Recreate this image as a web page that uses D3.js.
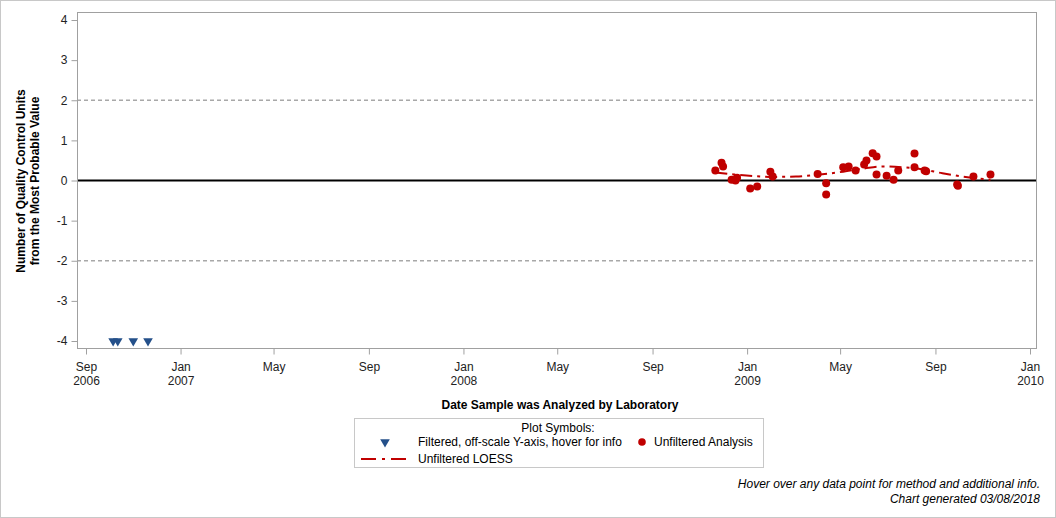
<!DOCTYPE html>
<html><head><meta charset="utf-8">
<script src="https://cdn.jsdelivr.net/npm/d3@7"></script>
<style>
body{margin:0;background:#fff;}
svg{display:block;font-family:"Liberation Sans",Arial,sans-serif;}
</style></head><body>
<svg id="c" width="1056" height="518"></svg>
<script>
// Unfiltered analyses: dates and values (QC units from MPV)
const unfilteredDates = ["2008-11-21","2008-11-29","2008-12-01","2008-12-12","2008-12-17","2008-12-19","2009-01-05","2009-01-14","2009-01-31","2009-02-03","2009-04-02","2009-04-13","2009-04-13","2009-05-05","2009-05-12","2009-05-21","2009-06-01","2009-06-04","2009-06-12","2009-06-17","2009-06-17","2009-06-30","2009-07-09","2009-07-15","2009-08-05","2009-08-05","2009-08-18","2009-08-20","2009-09-29","2009-09-30","2009-10-20","2009-11-11"];
const unfilteredValues = [0.25,0.44,0.35,0.02,0.0,0.07,-0.2,-0.15,0.22,0.1,0.16,-0.07,-0.35,0.33,0.35,0.25,0.4,0.5,0.68,0.6,0.15,0.12,0.02,0.25,0.67,0.33,0.25,0.23,-0.1,-0.13,0.1,0.15];
// Filtered (off-scale) points, drawn at the bottom of the axis
const filteredDates = ["2006-10-06","2006-10-12","2006-11-01","2006-11-20"];
const filteredValues = [-4,-4,-4,-4];
// LOESS curve
const loessDates = ["2008-11-21","2008-12-15","2009-01-10","2009-02-05","2009-03-05","2009-04-05","2009-05-05","2009-06-01","2009-06-25","2009-07-20","2009-08-15","2009-09-10","2009-10-05","2009-11-11"];
const loessValues = [0.2,0.15,0.11,0.09,0.1,0.15,0.22,0.3,0.35,0.33,0.28,0.18,0.1,0.02];
const yTicks = [-4,-3,-2,-1,0,1,2,3,4];
const xTickDates = ["2006-09-01","2007-01-01","2007-05-01","2007-09-01","2008-01-01","2008-05-01","2008-09-01","2009-01-01","2009-05-01","2009-09-01","2010-01-01"];
const refLines = [2,-2];

const parse = d3.utcParse("%Y-%m-%d");
const svg = d3.select("#c");
const W = 1056, H = 518;
const plot = {l:77, t:12, r:1037, b:349};

svg.append("rect").attr("x",0.5).attr("y",0.5).attr("width",W-1).attr("height",H-1)
  .attr("fill","#fff").attr("stroke","#c8c8c8");

const x = d3.scaleUtc().domain([parse("2006-09-01"), parse("2010-01-01")]).range([86,1030]);
const y = d3.scaleLinear().domain([-4,4]).range([341,20]);

// reference lines
svg.selectAll(".ref").data(refLines).join("line")
  .attr("x1",plot.l).attr("x2",plot.r).attr("y1",d=>y(d)).attr("y2",d=>y(d))
  .attr("stroke","#a8a8a8").attr("stroke-width",1.5).attr("stroke-dasharray","4,3");
svg.append("line").attr("x1",plot.l).attr("x2",plot.r).attr("y1",y(0)).attr("y2",y(0))
  .attr("stroke","#000").attr("stroke-width",2);

// frame
svg.append("rect").attr("x",plot.l+0.5).attr("y",plot.t+0.5)
  .attr("width",plot.r-plot.l-1).attr("height",plot.b-plot.t-1)
  .attr("fill","none").attr("stroke","#a0a0a0");

// Y axis
const yAxis = d3.axisLeft(y).tickValues(yTicks).tickSize(6).tickPadding(4).tickFormat(d=>String(d));
const gy = svg.append("g").attr("transform",`translate(${plot.l+0.5},0)`).call(yAxis);
gy.select(".domain").remove();
gy.selectAll(".tick line").attr("stroke","#a0a0a0");
gy.selectAll(".tick text").attr("font-size",12).attr("fill","#222").attr("font-family","Liberation Sans, Arial");

// X axis
const xAxis = d3.axisBottom(x).tickValues(xTickDates.map(parse)).tickSize(6).tickPadding(8).tickFormat(()=>"");
const gx = svg.append("g").attr("transform",`translate(0,${plot.b-0.5})`).call(xAxis);
gx.select(".domain").remove();
gx.selectAll(".tick line").attr("stroke","#a0a0a0");
gx.selectAll(".tick text").each(function(d){
  const t = d3.select(this);
  t.attr("font-size",12).attr("fill","#222").attr("font-family","Liberation Sans, Arial");
  const mon = d3.utcFormat("%b")(d);
  t.append("tspan").attr("x",0).attr("dy","0.71em").text(mon);
  if (mon==="Jan" || +d===+parse("2006-09-01")) t.append("tspan").attr("x",0).attr("dy","1.2em").text(d3.utcFormat("%Y")(d));
});

// axis titles
svg.append("text").attr("transform","translate(25,181) rotate(-90)").attr("text-anchor","middle")
  .attr("font-size",12).attr("font-weight","bold").attr("fill","#000").text("Number of Quality Control Units");
svg.append("text").attr("transform","translate(39,181) rotate(-90)").attr("text-anchor","middle")
  .attr("font-size",12).attr("font-weight","bold").attr("fill","#000").text("from the Most Probable Value");
svg.append("text").attr("x",560).attr("y",409).attr("text-anchor","middle")
  .attr("font-size",12).attr("font-weight","bold").attr("fill","#000").text("Date Sample was Analyzed by Laboratory");

const red = "#c00000", blue = "#24508a";

// LOESS line
const loessData = loessDates.map((d,i)=>({d:parse(d),v:loessValues[i]}));
svg.append("path").datum(loessData)
  .attr("d",d3.line().x(p=>x(p.d)).y(p=>y(p.v)).curve(d3.curveMonotoneX))
  .attr("fill","none").attr("stroke",red).attr("stroke-width",2).attr("stroke-dasharray","12,5,3,5");

// unfiltered points
const pts = unfilteredDates.map((d,i)=>({d:parse(d),v:unfilteredValues[i]}));
svg.selectAll(".pt").data(pts).join("circle")
  .attr("cx",p=>x(p.d)).attr("cy",p=>y(p.v)).attr("r",4).attr("fill",red);

// filtered triangles
const tri = d3.symbol().type(d3.symbolTriangle).size(40);
const fpts = filteredDates.map((d,i)=>({d:parse(d),v:filteredValues[i]}));
svg.selectAll(".tri").data(fpts).join("path")
  .attr("d",tri).attr("fill",blue)
  .attr("transform",p=>`translate(${x(p.d)},${y(p.v)}) rotate(180)`);

// legend
const lg = svg.append("g");
lg.append("rect").attr("x",354.5).attr("y",418.5).attr("width",409).attr("height",49)
  .attr("fill","#fff").attr("stroke","#c8c8c8");
lg.append("text").attr("x",558).attr("y",432).attr("text-anchor","middle").attr("font-size",12).attr("fill","#000").text("Plot Symbols:");
lg.append("path").attr("d",tri).attr("fill",blue).attr("transform","translate(385,442) rotate(180)");
lg.append("text").attr("x",418).attr("y",446).attr("font-size",12).attr("fill","#000").text("Filtered, off-scale Y-axis, hover for info");
lg.append("circle").attr("cx",642).attr("cy",442).attr("r",3.8).attr("fill",red);
lg.append("text").attr("x",654).attr("y",446).attr("font-size",12).attr("fill","#000").text("Unfiltered Analysis");
lg.append("line").attr("x1",361).attr("x2",410).attr("y1",459).attr("y2",459)
  .attr("stroke",red).attr("stroke-width",2).attr("stroke-dasharray","15,6,3,6");
lg.append("text").attr("x",418).attr("y",463).attr("font-size",12).attr("fill","#000").text("Unfiltered LOESS");

// footer
svg.append("text").attr("x",1040).attr("y",488).attr("text-anchor","end").attr("font-size",12)
  .attr("font-style","italic").attr("fill","#000").text("Hover over any data point for method and additional info.");
svg.append("text").attr("x",1040).attr("y",503).attr("text-anchor","end").attr("font-size",12)
  .attr("font-style","italic").attr("fill","#000").text("Chart generated 03/08/2018");
</script>
</body></html>
